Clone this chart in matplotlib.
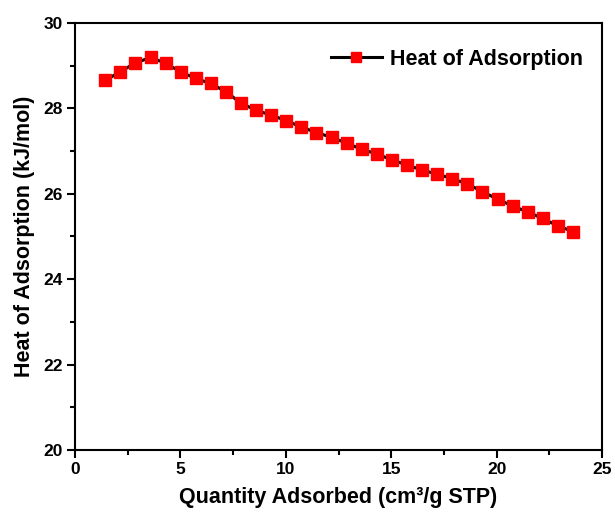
import matplotlib

matplotlib.use("Agg")
import matplotlib.pyplot as plt
from matplotlib.ticker import MultipleLocator

plt.rcParams["font.family"] = ["Liberation Sans", "DejaVu Sans"]
plt.rcParams["font.weight"] = "bold"

quantity = [1.42, 2.13, 2.86, 3.59, 4.31, 5.01, 5.72, 6.43, 7.15, 7.87, 8.60,
            9.30, 10.02, 10.74, 11.45, 12.17, 12.89, 13.60, 14.31, 15.05, 15.75,
            16.48, 17.17, 17.90, 18.61, 19.32, 20.05, 20.76, 21.48, 22.18,
            22.89, 23.64]
heat = [28.65, 28.85, 29.06, 29.19, 29.05, 28.85, 28.70, 28.58, 28.39, 28.12,
        27.95, 27.84, 27.71, 27.56, 27.43, 27.32, 27.18, 27.04, 26.93, 26.79,
        26.67, 26.55, 26.46, 26.35, 26.23, 26.05, 25.87, 25.71, 25.57, 25.42,
        25.25, 25.11]
x_ticks = [0, 5, 10, 15, 20, 25]
y_ticks = [20, 22, 24, 26, 28, 30]

fig = plt.figure(figsize=(6.15, 5.19), dpi=100)
ax = fig.add_axes([0.122, 0.133, 0.857, 0.823])
ax.plot(quantity, heat, color="black", linewidth=2.2, marker="s",
        markersize=9, markerfacecolor="#ff0000", markeredgecolor="#ff0000",
        label="Heat of Adsorption")

ax.set_xlim(0, 25)
ax.set_ylim(20, 30)
ax.set_xticks(x_ticks)
ax.set_yticks(y_ticks)
ax.xaxis.set_minor_locator(MultipleLocator(2.5))
ax.yaxis.set_minor_locator(MultipleLocator(1))
ax.tick_params(which="major", direction="out", length=5.5, width=1.5,
               labelsize=12.5, pad=3)
ax.tick_params(which="minor", direction="out", length=3.5, width=1.5)
for spine in ax.spines.values():
    spine.set_linewidth(1.5)

ax.set_xlabel("Quantity Adsorbed (cm³/g STP)", fontsize=15.5, fontweight="bold",
              labelpad=7)
ax.set_ylabel("Heat of Adsorption (kJ/mol)", fontsize=15.5, fontweight="bold",
              labelpad=6)

leg = ax.legend(loc="upper right", bbox_to_anchor=(1.0, 0.985), frameon=False,
                fontsize=15.5, handlelength=2.4, handletextpad=0.35,
                markerscale=0.8, borderaxespad=0.5)

fig.savefig("out.png")
